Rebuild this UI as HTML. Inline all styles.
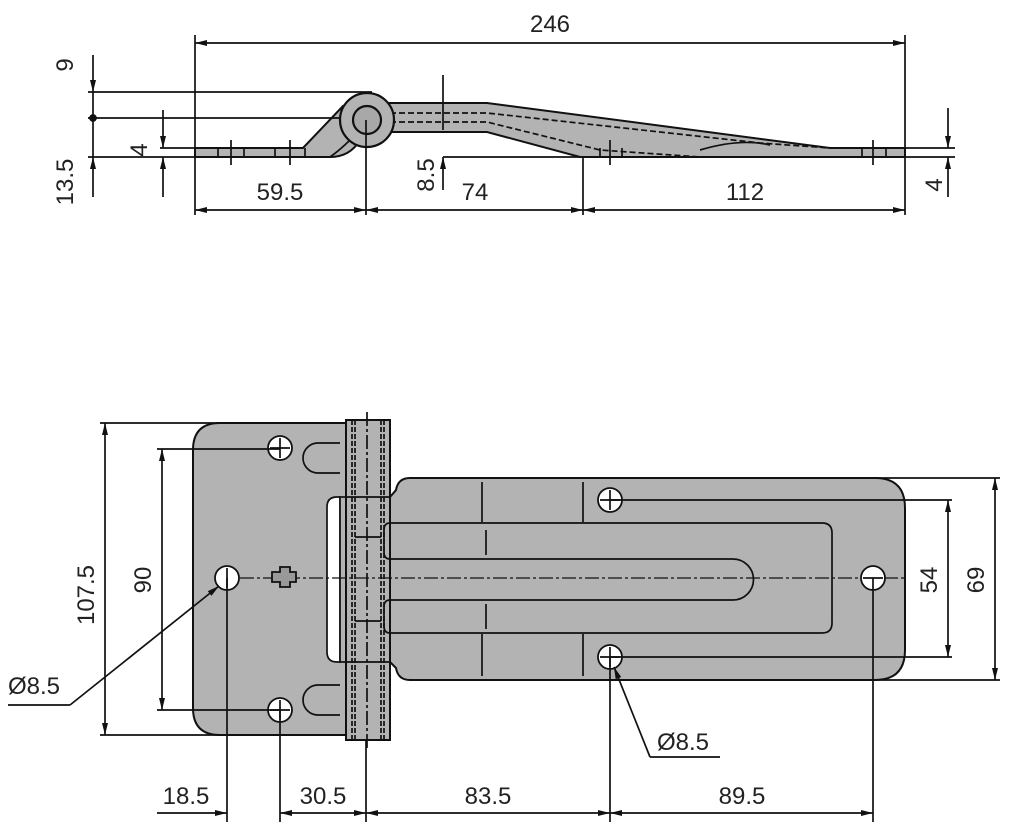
<!DOCTYPE html>
<html><head><meta charset="utf-8"><style>
html,body{margin:0;padding:0;background:#fff;}
svg{display:block;}
text{font-family:"Liberation Sans",Arial,sans-serif;font-size:24px;fill:#222;}
</style></head><body>
<svg width="1009" height="831" viewBox="0 0 1009 831" xmlns="http://www.w3.org/2000/svg">
<defs>
<marker id="a" viewBox="0 0 12 6" refX="12" refY="3" markerWidth="13" markerHeight="6" orient="auto-start-reverse" markerUnits="userSpaceOnUse"><path d="M0,0 L12,3 L0,6 z" fill="#111"/></marker>
</defs>
<g stroke="#111" stroke-width="1.7" fill="none">
<!-- ===== TOP VIEW ===== -->
<path d="M372,103 L487,103 L830,148 L905,148 L905,157 L580,157 L487,132 L385,132 Z" fill="#b3b3b3" stroke-width="2"/>
<path d="M390,113 L487,113 L760,143 L830,148" stroke-dasharray="6,3"/>
<path d="M390,122 L487,122 L600,150 L700,157" stroke-dasharray="6,3"/>
<path d="M700,150 Q740,138 770,145" />
<path d="M195,148 L303,148 L343,106 L380,106 L360,140 Q350,157 330,157 L195,157 Z" fill="#b3b3b3" stroke-width="2"/>
<circle cx="367" cy="120" r="27" fill="#b3b3b3" stroke-width="2.2"/>
<circle cx="367" cy="120" r="14" fill="#a8a8a8" stroke-width="2.2"/>
<path d="M350,140 Q340,150 330,157" />
<path d="M231,140 V165 M290,140 V165 M218,148 V157 M244,148 V157 M275,148 V157 M305,148 V157 M610,140 V165 M600,148 V157 M622,148 V157 M873,140 V165 M862,148 V157 M886,148 V157"/>
<path d="M195,35 V215 M905,35 V215 M366,120 V215 M583,157 V215 M443,75 V100"/>
<path d="M88,92 H372 M88,118 H340 M88,157 H195 M160,148 H195 M905,148 H955 M905,157 H955 M443,157 H583"/>
<line x1="195" y1="43" x2="905" y2="43" marker-start="url(#a)" marker-end="url(#a)"/>
<line x1="93" y1="55" x2="93" y2="92" marker-end="url(#a)"/>
<line x1="93" y1="92" x2="93" y2="157"/>
<line x1="93" y1="197" x2="93" y2="157" marker-end="url(#a)"/>
<circle cx="93" cy="118" r="3" fill="#111"/>
<line x1="163" y1="110" x2="163" y2="148" marker-end="url(#a)"/>
<line x1="163" y1="197" x2="163" y2="157" marker-end="url(#a)"/>
<line x1="443" y1="100" x2="443" y2="130"/>
<line x1="443" y1="190" x2="443" y2="157" marker-end="url(#a)"/>
<line x1="948" y1="108" x2="948" y2="148" marker-end="url(#a)"/>
<line x1="948" y1="197" x2="948" y2="157" marker-end="url(#a)"/>
<line x1="195" y1="210" x2="366" y2="210" marker-start="url(#a)" marker-end="url(#a)"/>
<line x1="366" y1="210" x2="583" y2="210" marker-start="url(#a)" marker-end="url(#a)"/>
<line x1="583" y1="210" x2="905" y2="210" marker-start="url(#a)" marker-end="url(#a)"/>

<!-- ===== BOTTOM VIEW ===== -->
<path d="M390,497 L396,490 Q398,478 410,478 L875,478 Q905,478 905,508 L905,650 Q905,680 875,680 L410,680 Q398,680 396,668 L390,662 Z" fill="#b3b3b3" stroke-width="2"/>
<path d="M220,423 L346,423 L346,735 L220,735 Q193,735 193,708 L193,450 Q193,423 220,423 Z" fill="#b3b3b3" stroke-width="2"/>
<path d="M337,497 L340,497 L340,662 L337,662 Q327,662 327,652 L327,507 Q327,497 337,497 Z" fill="#fff"/>
<rect x="340" y="497" width="50" height="165" fill="#b3b3b3"/>
<rect x="346" y="420" width="44" height="320" fill="#b3b3b3" stroke-width="2"/>
<path d="M352,420 V740 M384,420 V740 M355,420 V740 M381,420 V740" stroke-dasharray="5,2"/>
<path d="M346,497 H390 M346,662 H390 M355,537 H381 M355,621 H381"/>
<path d="M367,412 V748" stroke-dasharray="14,3,3,3"/>
<path d="M340,443 H318 A15,15 0 0 0 318,473 H340"/>
<path d="M340,685 H318 A15,15 0 0 0 318,715 H340"/>
<path d="M390,523 H822 Q832,523 832,533 V623 Q832,633 822,633 H390"/>
<path d="M390,559 H733 A20.5,20.5 0 0 1 733,600 H390"/>
<path d="M390,523 Q384,523 384,530 V552 Q384,559 390,559 M390,600 Q384,600 384,607 V626 Q384,633 390,633"/>
<path d="M482,482 V522 M583,482 V522 M482,634 V676 M583,634 V676 M486,530 V555 M486,604 V629"/>
<path d="M240,578 H905" stroke-dasharray="14,3,3,3" stroke-width="1.3"/>
<path d="M272,572 h8 v-5 h10 v5 h6 v10 h-6 v5 h-10 v-5 h-8 z" fill="#999" stroke-width="1.8"/>
<g fill="#fff" stroke-width="1.8">
<circle cx="280" cy="448" r="12"/><circle cx="280" cy="710" r="12"/><circle cx="227" cy="578" r="12"/>
<circle cx="610" cy="500" r="12"/><circle cx="610" cy="657" r="12"/><circle cx="873" cy="578" r="12"/>
</g>
<path d="M270,448 H290 M280,438 V458 M270,710 H290 M280,700 V720 M600,500 H620 M610,490 V510 M600,657 H620 M610,647 V667 M227,568 V588 M863,578 H883"/>
<path d="M100,423 H220 M157,449 H280 M100,735 H220 M157,710 H280"/>
<path d="M610,500 H952 M610,657 H952 M875,478 H1000 M875,680 H1000"/>
<path d="M227,578 V822 M280,710 V822 M366,740 V822 M610,657 V822 M873,578 V822"/>
<line x1="105" y1="423" x2="105" y2="735" marker-start="url(#a)" marker-end="url(#a)"/>
<line x1="162" y1="449" x2="162" y2="710" marker-start="url(#a)" marker-end="url(#a)"/>
<line x1="948" y1="500" x2="948" y2="657" marker-start="url(#a)" marker-end="url(#a)"/>
<line x1="995" y1="478" x2="995" y2="680" marker-start="url(#a)" marker-end="url(#a)"/>
<path d="M8,705 H70"/>
<line x1="70" y1="705" x2="219" y2="586" marker-end="url(#a)"/>
<path d="M720,757 H650"/>
<line x1="650" y1="757" x2="614" y2="667" marker-end="url(#a)"/>
<line x1="157" y1="813" x2="227" y2="813" marker-end="url(#a)"/>
<line x1="280" y1="813" x2="366" y2="813" marker-start="url(#a)" marker-end="url(#a)"/>
<line x1="366" y1="813" x2="610" y2="813" marker-start="url(#a)" marker-end="url(#a)"/>
<line x1="610" y1="813" x2="873" y2="813" marker-start="url(#a)" marker-end="url(#a)"/>
</g>
<text x="550" y="32" text-anchor="middle">246</text>
<text x="280" y="200" text-anchor="middle">59.5</text>
<text x="475" y="200" text-anchor="middle">74</text>
<text x="745" y="200" text-anchor="middle">112</text>
<text transform="translate(73,65) rotate(-90)" text-anchor="middle">9</text>
<text transform="translate(73,182) rotate(-90)" text-anchor="middle">13.5</text>
<text transform="translate(147,150) rotate(-90)" text-anchor="middle">4</text>
<text transform="translate(434,175) rotate(-90)" text-anchor="middle">8.5</text>
<text transform="translate(942,185) rotate(-90)" text-anchor="middle">4</text>
<text transform="translate(94,595) rotate(-90)" text-anchor="middle">107.5</text>
<text transform="translate(151,580) rotate(-90)" text-anchor="middle">90</text>
<text transform="translate(937,580) rotate(-90)" text-anchor="middle">54</text>
<text transform="translate(984,580) rotate(-90)" text-anchor="middle">69</text>
<text x="8" y="694">Ø8.5</text>
<text x="657" y="750">Ø8.5</text>
<text x="186" y="804" text-anchor="middle">18.5</text>
<text x="323" y="804" text-anchor="middle">30.5</text>
<text x="488" y="804" text-anchor="middle">83.5</text>
<text x="742" y="804" text-anchor="middle">89.5</text>
</svg>
</body></html>
